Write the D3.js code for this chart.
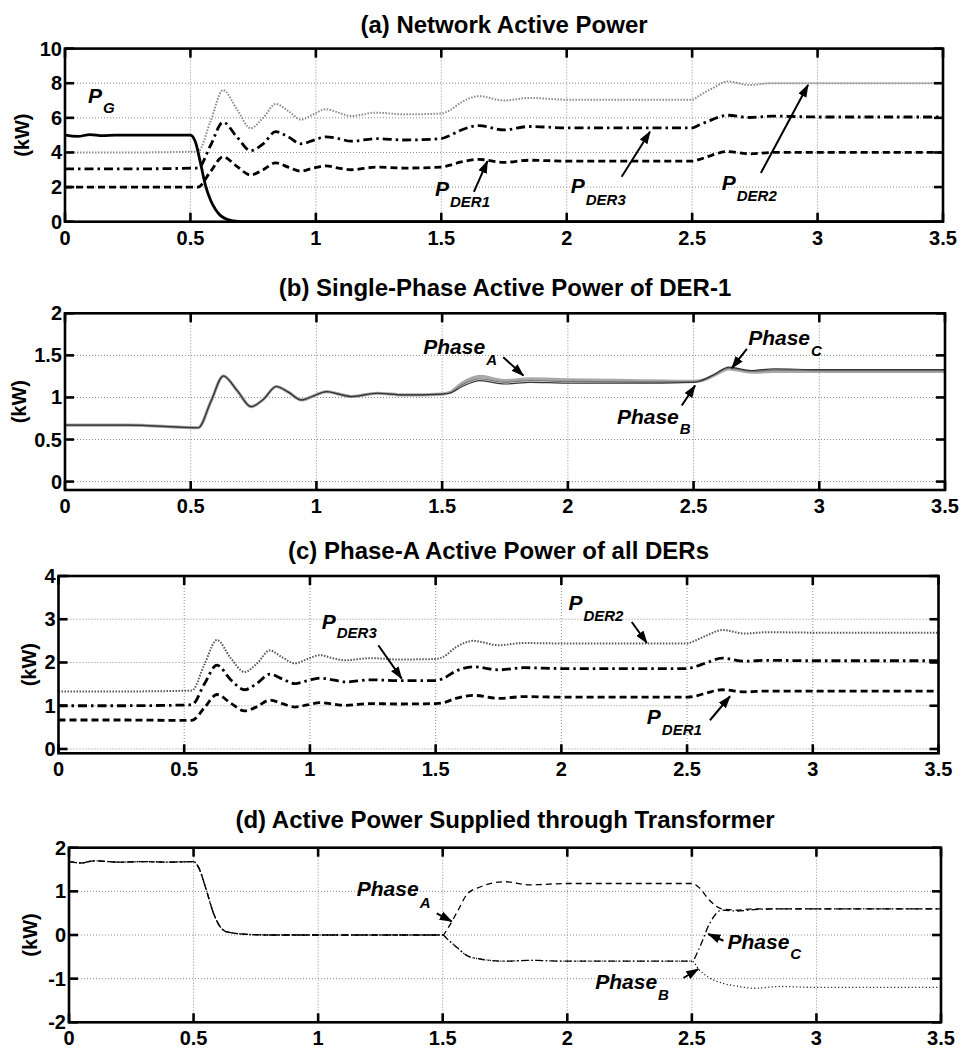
<!DOCTYPE html>
<html><head><meta charset="utf-8">
<script src="https://cdn.jsdelivr.net/npm/d3@7"></script>
<style>
body{margin:0;background:#fff}
svg{display:block}
text{font-family:"Liberation Sans",Arial,Helvetica,sans-serif;font-weight:bold;fill:#000}
</style>
</head><body>
<svg id="chart" width="963" height="1050"></svg>
<script>
// ---------------- DATA ----------------
const xTicks = [0, 0.5, 1, 1.5, 2, 2.5, 3, 3.5];
const xTickLabels = ["0", "0.5", "1", "1.5", "2", "2.5", "3", "3.5"];

const yTicksA = [0, 2, 4, 6, 8, 10];
const yTickLabelsA = ["0", "2", "4", "6", "8", "10"];
const yTicksB = [0, 0.5, 1, 1.5, 2];
const yTickLabelsB = ["0", "0.5", "1", "1.5", "2"];
const yTicksC = [0, 1, 2, 3, 4];
const yTickLabelsC = ["0", "1", "2", "3", "4"];
const yTicksD = [-2, -1, 0, 1, 2];
const yTickLabelsD = ["-2", "-1", "0", "1", "2"];

// time knots (s) for DER responses (panels a, b, c)
const tSim = [0, 0.25, 0.53, 0.58, 0.63, 0.685, 0.74, 0.79, 0.84, 0.89, 0.94, 0.99, 1.04, 1.09, 1.14, 1.24, 1.35, 1.5, 1.53, 1.58, 1.65, 1.75, 1.85, 2.0, 2.25, 2.5, 2.53, 2.58, 2.64, 2.73, 2.82, 3.0, 3.25, 3.5];

// (a) network active power (kW)
const tGrid = [0, 0.05, 0.1, 0.15, 0.2, 0.3, 0.4, 0.5, 0.52, 0.54, 0.56, 0.58, 0.6, 0.62, 0.65, 0.68, 0.72, 1.0, 2.0, 3.5];
const pG = [5.0, 4.93, 5.03, 4.97, 5.0, 5.0, 5.0, 5.0, 4.6, 3.4, 2.1, 1.25, 0.7, 0.35, 0.12, 0.03, 0, 0, 0, 0];
const pDER1 = [2.0, 2.0, 2.0, 2.9, 3.75, 3.2, 2.7, 3.0, 3.4, 3.15, 2.92, 3.1, 3.23, 3.1, 3.0, 3.15, 3.1, 3.15, 3.25, 3.45, 3.6, 3.43, 3.55, 3.5, 3.5, 3.5, 3.6, 3.85, 4.05, 3.92, 4.0, 4.0, 4.0, 4.0];
const pDER2 = [4.0, 4.0, 4.05, 5.8, 7.6, 6.5, 5.4, 6.0, 6.8, 6.4, 5.9, 6.2, 6.5, 6.3, 6.1, 6.3, 6.2, 6.25, 6.4, 6.9, 7.25, 7.0, 7.15, 7.05, 7.05, 7.05, 7.3, 7.7, 8.1, 7.9, 8.0, 8.0, 8.0, 8.0];
const pDER3 = [3.05, 3.05, 3.1, 4.4, 5.75, 4.9, 4.1, 4.5, 5.2, 4.9, 4.5, 4.7, 4.9, 4.8, 4.65, 4.8, 4.72, 4.8, 4.95, 5.3, 5.55, 5.3, 5.5, 5.42, 5.42, 5.42, 5.6, 5.9, 6.15, 6.02, 6.1, 6.05, 6.05, 6.05];

// (b) single-phase active power of DER-1 (kW)
const der1PhaseA = [0.67, 0.67, 0.64, 0.95, 1.255, 1.08, 0.89, 0.98, 1.13, 1.06, 0.97, 1.02, 1.07, 1.04, 1.01, 1.05, 1.03, 1.04, 1.06, 1.17, 1.25, 1.2, 1.22, 1.21, 1.2, 1.19, 1.2, 1.26, 1.34, 1.3, 1.31, 1.31, 1.31, 1.31];
const der1PhaseB = [0.67, 0.67, 0.64, 0.95, 1.255, 1.08, 0.89, 0.98, 1.13, 1.06, 0.97, 1.02, 1.07, 1.04, 1.01, 1.05, 1.03, 1.04, 1.05, 1.13, 1.2, 1.16, 1.18, 1.17, 1.17, 1.18, 1.2, 1.27, 1.36, 1.32, 1.34, 1.33, 1.33, 1.33];
const der1PhaseC = [0.67, 0.67, 0.64, 0.95, 1.255, 1.08, 0.89, 0.98, 1.13, 1.06, 0.97, 1.02, 1.07, 1.04, 1.01, 1.05, 1.03, 1.04, 1.055, 1.15, 1.22, 1.18, 1.2, 1.19, 1.185, 1.185, 1.2, 1.265, 1.35, 1.31, 1.325, 1.32, 1.32, 1.32];

// (c) phase-A active power of all DERs (kW)
const phADER1 = [0.67, 0.67, 0.66, 0.95, 1.26, 1.06, 0.88, 0.98, 1.13, 1.05, 0.97, 1.02, 1.07, 1.04, 1.01, 1.05, 1.04, 1.05, 1.07, 1.17, 1.24, 1.17, 1.21, 1.2, 1.2, 1.2, 1.22, 1.3, 1.37, 1.32, 1.34, 1.34, 1.34, 1.34];
const phADER2 = [1.33, 1.33, 1.35, 1.95, 2.52, 2.1, 1.78, 1.98, 2.28, 2.12, 1.98, 2.08, 2.17, 2.1, 2.05, 2.1, 2.07, 2.08, 2.13, 2.35, 2.5, 2.4, 2.45, 2.44, 2.44, 2.44, 2.5, 2.63, 2.75, 2.67, 2.7, 2.69, 2.69, 2.69];
const phADER3 = [1.0, 1.0, 1.02, 1.5, 1.94, 1.6, 1.37, 1.52, 1.73, 1.62, 1.51, 1.58, 1.64, 1.6, 1.55, 1.6, 1.58, 1.58, 1.63, 1.8, 1.9, 1.83, 1.88, 1.86, 1.86, 1.86, 1.9, 2.0, 2.1, 2.03, 2.05, 2.04, 2.04, 2.04];

// (d) active power supplied through transformer (kW)
const tTrafo = [0, 0.05, 0.1, 0.2, 0.3, 0.4, 0.5, 0.52, 0.55, 0.58, 0.6, 0.63, 0.7, 0.8, 1.0, 1.5, 1.52, 1.56, 1.6, 1.65, 1.75, 1.85, 2.0, 2.25, 2.5, 2.53, 2.57, 2.62, 2.68, 2.75, 2.85, 3.0, 3.25, 3.5];
const trPhaseA = [1.68, 1.65, 1.7, 1.67, 1.68, 1.67, 1.68, 1.55, 1.05, 0.5, 0.25, 0.08, 0.02, 0.0, 0.0, 0.0, 0.15, 0.55, 0.95, 1.1, 1.22, 1.15, 1.18, 1.18, 1.18, 1.08, 0.8, 0.6, 0.57, 0.6, 0.6, 0.6, 0.6, 0.6];
const trPhaseB = [1.68, 1.65, 1.7, 1.67, 1.68, 1.67, 1.68, 1.55, 1.05, 0.5, 0.25, 0.08, 0.02, 0.0, 0.0, 0.0, -0.1, -0.3, -0.48, -0.55, -0.6, -0.58, -0.6, -0.6, -0.6, -0.8, -0.98, -1.1, -1.17, -1.22, -1.18, -1.2, -1.2, -1.2];
const trPhaseC = [1.68, 1.65, 1.7, 1.67, 1.68, 1.67, 1.68, 1.55, 1.05, 0.5, 0.25, 0.08, 0.02, 0.0, 0.0, 0.0, -0.1, -0.3, -0.48, -0.55, -0.6, -0.58, -0.6, -0.6, -0.6, -0.3, 0.25, 0.57, 0.55, 0.58, 0.6, 0.6, 0.6, 0.6];

// ---------------- STYLES ----------------
const styles = {
  solid:   {stroke: "#000", width: 2.8, dash: null},
  dashed:  {stroke: "#000", width: 2.8, dash: "7,4"},
  dashdot: {stroke: "#000", width: 2.8, dash: "9,4,2.5,4"},
  dottedA: {stroke: "#8a8a8a", width: 2, dash: "1.5,1.5"},
  dottedC: {stroke: "#555", width: 2, dash: "1.5,1.5"},
  phA:     {stroke: "#a8a8a8", width: 3.2, dash: null},
  phB:     {stroke: "#333", width: 1.2, dash: null},
  phC:     {stroke: "#777", width: 1.3, dash: null},
  thinDash:{stroke: "#000", width: 1.3, dash: "6,4"},
  thinDot: {stroke: "#000", width: 1.3, dash: "1,2.5"},
  thinDD:  {stroke: "#000", width: 1.3, dash: "7,3,1.5,3"}
};

// ---------------- PANELS ----------------
const panels = [
  {
    title: "(a) Network Active Power", titleBase: 33,
    box: {x0: 65, x1: 943, y0: 48.6, y1: 221.7}, yDomain: [0, 10],
    yTicks: yTicksA, yTickLabels: yTickLabelsA, ylabX: 22,
    series: [
      {t: tSim, v: pDER2, s: "dottedA"},
      {t: tSim, v: pDER3, s: "dashdot"},
      {t: tSim, v: pDER1, s: "dashed"},
      {t: tGrid, v: pG, s: "solid"}
    ],
    notes: [
      {t: 0.092, v: 6.85, main: "P", sub: "G", dy: 10},
      {t: 1.475, v: 1.48, main: "P", sub: "DER1", dy: 11},
      {t: 2.016, v: 1.64, main: "P", sub: "DER3", dy: 11.5},
      {t: 2.618, v: 1.83, main: "P", sub: "DER2", dy: 11}
    ],
    arrows: [
      {t0: 1.630, v0: 1.72, t1: 1.684, v1: 3.50},
      {t0: 2.219, v0: 2.60, t1: 2.332, v1: 5.20},
      {t0: 2.774, v0: 2.81, t1: 2.962, v1: 7.90}
    ]
  },
  {
    title: "(b) Single-Phase Active Power of DER-1", titleBase: 296,
    box: {x0: 65, x1: 945, y0: 313.3, y1: 490}, yDomain: [-0.1, 2],
    yTicks: yTicksB, yTickLabels: yTickLabelsB, ylabX: 19,
    series: [
      {t: tSim, v: der1PhaseA, s: "phA"},
      {t: tSim, v: der1PhaseC, s: "phC"},
      {t: tSim, v: der1PhaseB, s: "phB"}
    ],
    notes: [
      {t: 1.425, v: 1.518, main: "Phase", sub: "A", dy: 11.5},
      {t: 2.717, v: 1.625, main: "Phase", sub: "C", dy: 11},
      {t: 2.195, v: 0.686, main: "Phase", sub: "B", dy: 10}
    ],
    arrows: [
      {t0: 1.743, v0: 1.479, t1: 1.823, v1: 1.260},
      {t0: 2.712, v0: 1.578, t1: 2.652, v1: 1.348},
      {t0: 2.453, v0: 0.904, t1: 2.506, v1: 1.141}
    ]
  },
  {
    title: "(c) Phase-A Active Power of all DERs", titleBase: 559,
    box: {x0: 58.5, x1: 938.5, y0: 576, y1: 753.3}, yDomain: [-0.1, 4],
    yTicks: yTicksC, yTickLabels: yTickLabelsC, ylabX: 29,
    series: [
      {t: tSim, v: phADER2, s: "dottedC"},
      {t: tSim, v: phADER3, s: "dashdot"},
      {t: tSim, v: phADER1, s: "dashed"}
    ],
    notes: [
      {t: 1.047, v: 2.784, main: "P", sub: "DER3", dy: 9},
      {t: 2.028, v: 3.224, main: "P", sub: "DER2", dy: 11},
      {t: 2.340, v: 0.571, main: "P", sub: "DER1", dy: 11}
    ],
    arrows: [
      {t0: 1.272, v0: 2.398, t1: 1.365, v1: 1.628},
      {t0: 2.280, v0: 2.937, t1: 2.340, v1: 2.451},
      {t0: 2.591, v0: 0.664, t1: 2.671, v1: 1.219}
    ]
  },
  {
    title: "(d) Active Power Supplied through Transformer", titleBase: 828,
    box: {x0: 69, x1: 941, y0: 847.7, y1: 1022.3}, yDomain: [-2, 2],
    yTicks: yTicksD, yTickLabels: yTickLabelsD, ylabX: 30,
    series: [
      {t: tTrafo, v: trPhaseB, s: "thinDot"},
      {t: tTrafo, v: trPhaseC, s: "thinDD"},
      {t: tTrafo, v: trPhaseA, s: "thinDash"}
    ],
    notes: [
      {t: 1.155, v: 0.900, main: "Phase", sub: "A", dy: 12},
      {t: 2.643, v: -0.321, main: "Phase", sub: "C", dy: 10},
      {t: 2.112, v: -1.237, main: "Phase", sub: "B", dy: 11.5}
    ],
    arrows: [
      {t0: 1.476, v0: 0.495, t1: 1.536, v1: 0.312},
      {t0: 2.627, v0: -0.131, t1: 2.566, v1: 0.023},
      {t0: 2.466, v0: -0.985, t1: 2.526, v1: -0.779}
    ]
  }
];

// ---------------- DRAW ----------------
const svg = d3.select("#chart");
svg.append("rect").attr("width", 963).attr("height", 1050).attr("fill", "#fff");

const defs = svg.append("defs");
defs.append("marker")
  .attr("id", "arrowhead")
  .attr("markerUnits", "userSpaceOnUse")
  .attr("viewBox", "0 0 13 10")
  .attr("refX", 12).attr("refY", 5)
  .attr("markerWidth", 13).attr("markerHeight", 10)
  .attr("orient", "auto")
  .append("path").attr("d", "M0,0.5 L13,5 L0,9.5 Z").attr("fill", "#000");

const TICK = 9;

panels.forEach((p, pi) => {
  const b = p.box;
  const x = d3.scaleLinear().domain([0, 3.5]).range([b.x0, b.x1]);
  const y = d3.scaleLinear().domain(p.yDomain).range([b.y1, b.y0]);
  const g = svg.append("g");

  // grid (dotted)
  const grid = g.append("g").attr("stroke", "#8c8c8c").attr("stroke-width", 1).attr("stroke-dasharray", "1,2");
  xTicks.filter(t => t > 0 && t < 3.5).forEach(t => {
    grid.append("line").attr("x1", x(t)).attr("x2", x(t)).attr("y1", b.y0).attr("y2", b.y1);
  });
  p.yTicks.filter(v => y(v) < b.y1 - 0.5 && y(v) > b.y0 + 0.5).forEach(v => {
    grid.append("line").attr("x1", b.x0).attr("x2", b.x1).attr("y1", y(v)).attr("y2", y(v));
  });

  // series
  const clipId = "clip" + pi;
  defs.append("clipPath").attr("id", clipId)
    .append("rect").attr("x", b.x0).attr("y", b.y0).attr("width", b.x1 - b.x0).attr("height", b.y1 - b.y0);
  const lineGen = d3.line().x(d => x(d[0])).y(d => y(d[1])).curve(d3.curveMonotoneX);
  const sg = g.append("g").attr("clip-path", `url(#${clipId})`);
  p.series.forEach(s => {
    const st = styles[s.s];
    const pts = s.t.map((t, i) => [t, s.v[i]]);
    sg.append("path").attr("d", lineGen(pts))
      .attr("fill", "none").attr("stroke", st.stroke).attr("stroke-width", st.width)
      .attr("stroke-dasharray", st.dash).attr("stroke-linejoin", "round");
  });

  // axes box + inward ticks
  const ax = g.append("g").attr("stroke", "#000").attr("stroke-width", 2.6).attr("fill", "none");
  ax.append("rect").attr("x", b.x0).attr("y", b.y0).attr("width", b.x1 - b.x0).attr("height", b.y1 - b.y0);
  xTicks.forEach(t => {
    ax.append("line").attr("x1", x(t)).attr("x2", x(t)).attr("y1", b.y1).attr("y2", b.y1 - TICK);
    ax.append("line").attr("x1", x(t)).attr("x2", x(t)).attr("y1", b.y0).attr("y2", b.y0 + TICK);
  });
  p.yTicks.forEach(v => {
    ax.append("line").attr("x1", b.x0).attr("x2", b.x0 + TICK).attr("y1", y(v)).attr("y2", y(v));
    ax.append("line").attr("x1", b.x1).attr("x2", b.x1 - TICK).attr("y1", y(v)).attr("y2", y(v));
  });

  // tick labels
  xTicks.forEach((t, i) => {
    g.append("text").attr("x", x(t)).attr("y", b.y1 + 23).attr("text-anchor", "middle")
      .attr("font-size", 20).text(xTickLabels[i]);
  });
  p.yTicks.forEach((v, i) => {
    g.append("text").attr("x", b.x0 - 3).attr("y", y(v) + 7).attr("text-anchor", "end")
      .attr("font-size", 20).text(p.yTickLabels[i]);
  });

  // y label
  const cy = (b.y0 + b.y1) / 2;
  g.append("text").attr("transform", `translate(${p.ylabX + 7},${cy}) rotate(-90)`)
    .attr("text-anchor", "middle").attr("font-size", 20).text("(kW)");

  // title
  g.append("text").attr("x", (b.x0 + b.x1) / 2).attr("y", p.titleBase).attr("text-anchor", "middle")
    .attr("font-size", 24).text(p.title);

  // annotations
  p.notes.forEach(n => {
    const tx = g.append("text").attr("x", x(n.t)).attr("y", y(n.v)).attr("font-style", "italic");
    tx.append("tspan").attr("font-size", 21).text(n.main);
    tx.append("tspan").attr("font-size", 15).attr("dx", 1).attr("dy", n.dy).text(n.sub);
  });
  p.arrows.forEach(a => {
    g.append("line").attr("x1", x(a.t0)).attr("y1", y(a.v0)).attr("x2", x(a.t1)).attr("y2", y(a.v1))
      .attr("stroke", "#000").attr("stroke-width", 2).attr("marker-end", "url(#arrowhead)");
  });
});
</script>
</body></html>
